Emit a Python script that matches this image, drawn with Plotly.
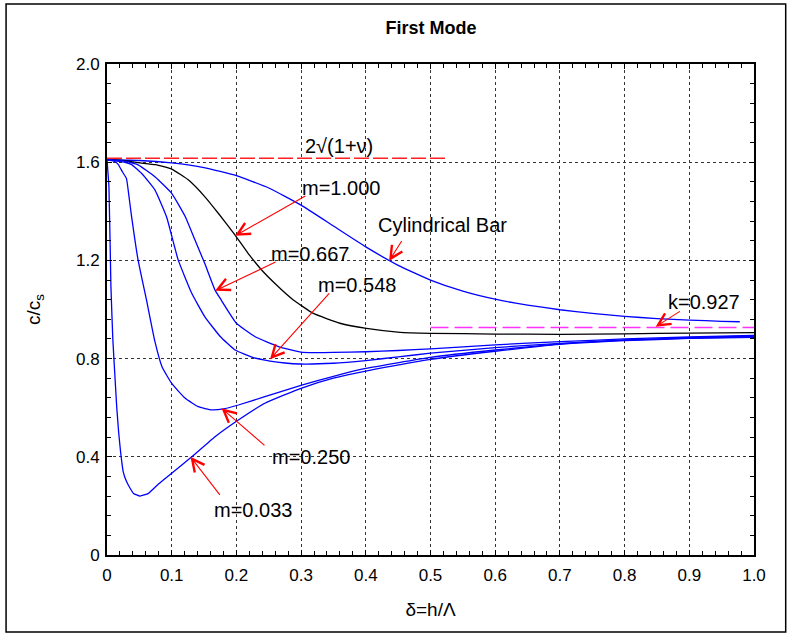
import plotly.graph_objects as go

# ---------------- data ----------------
cyl_x = [0, 0.05, 0.1, 0.15, 0.2, 0.25, 0.3, 0.35, 0.4, 0.45, 0.5, 0.55, 0.6, 0.65, 0.7,
         0.75, 0.8, 0.85, 0.9, 0.95, 0.978]
cyl_y = [1.61, 1.607, 1.597, 1.578, 1.545, 1.495, 1.425, 1.34, 1.255, 1.18, 1.12, 1.075, 1.042,
         1.018, 0.999, 0.984, 0.972, 0.963, 0.957, 0.952, 0.950]

m1000_x = [0, 0.025, 0.048, 0.075, 0.1, 0.126, 0.151, 0.172, 0.198, 0.218, 0.239, 0.26, 0.288,
           0.319, 0.36, 0.401, 0.453, 0.5, 0.6, 0.7, 0.8, 0.9, 1.0]
m1000_y = [1.61, 1.607, 1.598, 1.59, 1.572, 1.527, 1.46, 1.392, 1.303, 1.229, 1.161, 1.105, 1.039,
           0.984, 0.944, 0.923, 0.907, 0.903, 0.900, 0.899, 0.901, 0.904, 0.906]

m0667_x = [0, 0.025, 0.048, 0.074, 0.1, 0.121, 0.136, 0.151, 0.167, 0.175, 0.2, 0.229, 0.265,
           0.3, 0.319, 0.35, 0.4, 0.45, 0.5, 0.6, 0.7, 0.8, 0.9, 1.0]
m0667_y = [1.61, 1.605, 1.589, 1.541, 1.473, 1.378, 1.283, 1.188, 1.079, 1.045, 0.944, 0.889, 0.849,
           0.826, 0.824, 0.825, 0.828, 0.833, 0.840, 0.856, 0.869, 0.880, 0.888, 0.895]

m0548_x = [0, 0.02, 0.038, 0.055, 0.074, 0.092, 0.11, 0.131, 0.151, 0.175, 0.198, 0.225, 0.252,
           0.275, 0.298, 0.35, 0.4, 0.45, 0.5, 0.6, 0.7, 0.8, 0.9, 1.0]
m0548_y = [1.61, 1.603, 1.59, 1.55, 1.487, 1.378, 1.202, 1.066, 0.971, 0.89, 0.835, 0.805, 0.79,
           0.782, 0.778, 0.781, 0.792, 0.807, 0.822, 0.845, 0.862, 0.876, 0.885, 0.892]

m0250_x = [0, 0.01, 0.017, 0.024, 0.03, 0.034, 0.038, 0.048, 0.061, 0.074, 0.085, 0.1, 0.121,
           0.141, 0.162, 0.18, 0.203, 0.244, 0.301, 0.35, 0.4, 0.5, 0.6, 0.7, 0.8, 0.9, 1.0]
m0250_y = [1.61, 1.605, 1.592, 1.56, 1.534, 1.46, 1.378, 1.202, 1.039, 0.87, 0.767, 0.699, 0.638,
           0.604, 0.591, 0.595, 0.611, 0.645, 0.692, 0.728, 0.76, 0.805, 0.835, 0.86, 0.875, 0.883, 0.889]

m0033_x = [0, 0.003, 0.006, 0.009, 0.012, 0.015, 0.018, 0.021, 0.025, 0.03, 0.035, 0.041, 0.051,
           0.064, 0.08, 0.1, 0.131, 0.167, 0.203, 0.244, 0.301, 0.35, 0.4, 0.5, 0.6, 0.7, 0.8, 0.9, 1.0]
m0033_y = [1.61, 1.5, 1.1, 0.88, 0.74, 0.604, 0.5, 0.42, 0.34, 0.3, 0.275, 0.251, 0.24,
           0.251, 0.29, 0.333, 0.4, 0.482, 0.55, 0.618, 0.68, 0.72, 0.749, 0.797, 0.83, 0.858, 0.873, 0.882, 0.887]

limit_2sqrt_x = [0, 0.527]
limit_2sqrt_y = [1.616, 1.616]
limit_k_x = [0.5, 1.0]
limit_k_y = [0.927, 0.927]

x_ticks = [0, 0.1, 0.2, 0.3, 0.4, 0.5, 0.6, 0.7, 0.8, 0.9, 1.0]
x_tick_labels = ["0", "0.1", "0.2", "0.3", "0.4", "0.5", "0.6", "0.7", "0.8", "0.9", "1.0"]
y_ticks = [0, 0.4, 0.8, 1.2, 1.6, 2.0]
y_tick_labels = ["0", "0.4", "0.8", "1.2", "1.6", "2.0"]

# labels: (text, text_x, text_y, tail_x, tail_y, tip_x, tip_y)
labels = [
    ("m=1.000", 0.362, 1.495, 0.308, 1.465, 0.198, 1.30),
    ("m=0.667", 0.313, 1.225, 0.262, 1.195, 0.167, 1.076),
    ("m=0.548", 0.387, 1.10, 0.345, 1.07, 0.252, 0.797),
    ("Cylindrical Bar", 0.519, 1.345, 0.457, 1.285, 0.436, 1.198),
    ("k=0.927", 0.923, 1.03, 0.887, 0.995, 0.848, 0.93),
    ("m=0.250", 0.315, 0.40, 0.245, 0.443, 0.177, 0.598),
    ("m=0.033", 0.226, 0.185, 0.176, 0.24, 0.129, 0.40),
]

BLUE = "#0000ff"
fig = go.Figure()
for xs, ys, col in [(cyl_x, cyl_y, BLUE), (m1000_x, m1000_y, "#000000"), (m0667_x, m0667_y, BLUE),
                    (m0548_x, m0548_y, BLUE), (m0250_x, m0250_y, BLUE), (m0033_x, m0033_y, BLUE)]:
    fig.add_trace(go.Scatter(x=xs, y=ys, mode="lines",
                             line=dict(color=col, width=1.3, shape="spline", smoothing=0.4),
                             showlegend=False, hoverinfo="skip"))
fig.add_trace(go.Scatter(x=limit_2sqrt_x, y=limit_2sqrt_y, mode="lines",
                         line=dict(color="#ff2020", width=1.3, dash="15px,4px"), showlegend=False))
fig.add_trace(go.Scatter(x=limit_k_x, y=limit_k_y, mode="lines",
                         line=dict(color="#ff33ff", width=1.5, dash="18px,6px"), showlegend=False))

ann_font = dict(family="Liberation Sans, Arial, sans-serif", size=20, color="black")
annotations = []
for text, tx, ty, ax, ay, px, py in labels:
    annotations.append(dict(x=tx, y=ty, xref="x", yref="y", text=text, showarrow=False, font=ann_font))
    annotations.append(dict(x=px, y=py, xref="x", yref="y", ax=ax, ay=ay, axref="x", ayref="y",
                            text=" ", font=dict(size=2), borderpad=0,
                            showarrow=True, arrowhead=5, arrowsize=2.2, arrowwidth=1.1,
                            arrowcolor="#ff0000"))
annotations.append(dict(x=0.358, y=1.665, xref="x", yref="y", text="2\u221a(1+\u03bd)", showarrow=False,
                        font=ann_font))

tick_font = dict(family="Liberation Sans, Arial, sans-serif", size=17, color="black")
axis_common = dict(showline=True, linecolor="black", linewidth=2, mirror="ticks", ticks="inside",
                   ticklen=5, tickcolor="black", showgrid=True, gridcolor="#333333", griddash="3px,3px",
                   gridwidth=1, zeroline=False, tickfont=tick_font)

fig.update_layout(
    width=791, height=636, margin=dict(l=107, r=37, t=64, b=81),
    paper_bgcolor="white", plot_bgcolor="white",
    font=dict(family="Liberation Sans, Arial, sans-serif", color="black"),
    title=dict(text="<b>First Mode</b>", x=0.545, xanchor="center", y=0.957, yanchor="middle",
               font=dict(family="Liberation Sans Narrow, Liberation Sans, Arial, sans-serif", size=18, color="black")),
    xaxis=dict(range=[0, 1], tickvals=x_ticks, ticktext=x_tick_labels, ticklabelstandoff=4,
               minor=dict(dtick=0.02, ticks="inside", ticklen=4, tickcolor="black", showgrid=False),
               title=dict(text="\u03b4=h/\u039b", font=dict(size=19, color="black"), standoff=18),
               **axis_common),
    yaxis=dict(range=[0, 2], tickvals=y_ticks, ticktext=y_tick_labels, ticklabelstandoff=2,
               minor=dict(dtick=0.08, ticks="inside", ticklen=4, tickcolor="black", showgrid=False),
               title=dict(text="c/c<sub>s</sub>", font=dict(size=19, color="black"), standoff=30),
               **axis_common),
    annotations=annotations,
    shapes=[dict(type="rect", xref="paper", yref="paper", x0=-0.156, x1=1.049, y0=-0.157, y1=1.122,
                 line=dict(color="black", width=1.5), fillcolor="rgba(0,0,0,0)", layer="below")],
)
fig.write_html("out.html")
